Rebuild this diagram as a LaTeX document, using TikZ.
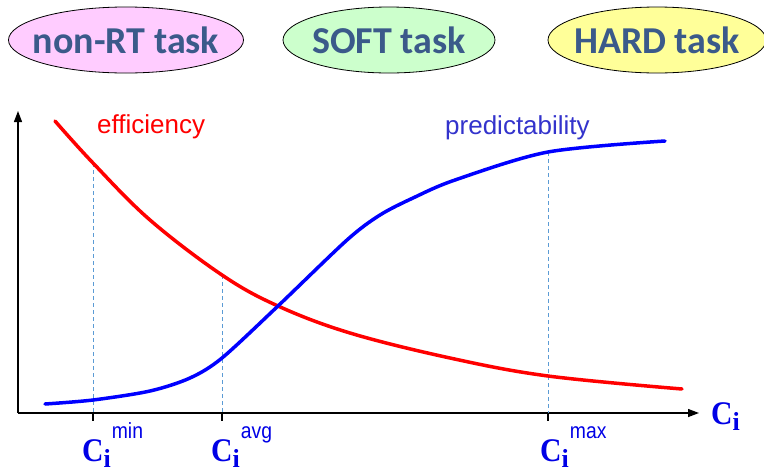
\documentclass[tikz,border=0pt]{standalone}
\usepackage{fontspec}
\setmainfont{Liberation Serif}
\newfontfamily\labelfont{Carlito}
\newfontfamily\arialfont{Liberation Sans}
\usetikzlibrary{arrows.meta,shapes.geometric}
\definecolor{tasktext}{HTML}{3B5A8A}
\definecolor{pinkfill}{HTML}{FFCCFF}
\definecolor{greenfill}{HTML}{CCFFCC}
\definecolor{yellowfill}{HTML}{FFFF99}
\definecolor{guide}{HTML}{5B9BD5}
\definecolor{axisblue}{HTML}{0000E6}
\definecolor{predblue}{HTML}{3333CC}
\tikzset{
  taskbox/.style={ellipse, draw=black, line width=0.8pt, minimum width=#1, minimum height=66pt,
    inner xsep=-14pt, inner ysep=0pt,
    font=\labelfont\bfseries\fontsize{38}{38}\selectfont, text=tasktext},
  axisline/.style={line width=1.3pt, -{Triangle[length=11pt,width=8pt]}},
  tick/.style={line width=2pt},
  guideline/.style={guide, line width=0.9pt, dash pattern=on 4pt off 3pt},
  curve/.style={line width=3.5pt, line cap=round},
  curvelabel/.style={font=\arialfont\fontsize{26}{26}\selectfont, anchor=base west, inner sep=0pt},
  clabel/.style={text=axisblue, inner sep=0pt, anchor=base west}
}
% bold serif C with subscript i and an optional sans superscript
\newcommand{\Cname}[1]{{\fontsize{33}{33}\selectfont\bfseries\scalebox{0.9}[1]{C}\raisebox{-6pt}{\fontsize{26}{26}\selectfont i}}\ifx&#1&\else\hspace{1pt}\raisebox{23pt}{\scalebox{0.88}[1]{\arialfont\fontsize{22}{22}\selectfont #1}}\fi}
\begin{document}
\begin{tikzpicture}[x=1pt,y=-1pt]
\useasboundingbox (0,0) rectangle (764,472);

% task category ellipses
\node[taskbox=235pt, fill=pinkfill] (nonrt) at (126,40) {non-RT task};
\node[taskbox=212pt, fill=greenfill] (soft) at (389,40) {SOFT task};
\node[taskbox=218pt, fill=yellowfill] (hard) at (657,40) {HARD task};

% axes
\coordinate (origin) at (18,413);
\coordinate (ytop) at (18,111);
\coordinate (xend) at (699,413);
\draw[axisline] (origin) -- (ytop);
\draw[axisline] (origin) -- (xend);
\node[clabel] (cx) at (711,424) {\Cname{}};

% reference points on the axis
\coordinate (tmin) at (93,413);
\coordinate (tavg) at (222,413);
\coordinate (tmax) at (548,413);
\coordinate (emin) at (93,163);
\coordinate (eavg) at (222,275);
\coordinate (pmax) at (548,152);

\draw[guideline] (emin) -- (tmin);
\draw[guideline] (eavg) -- (tavg);
\draw[guideline] (pmax) -- (tmax);
\draw[tick] (tmin) -- ++(0,8);
\draw[tick] (tavg) -- ++(0,8);
\draw[tick] (tmax) -- ++(0,8);

% efficiency curve
\draw[curve, red] plot[smooth, tension=0.6] coordinates {
  (55,121) (93,163) (150,220) (222,275) (278,306) (350,333) (450,358) (548,376) (682,389)};
% predictability curve
\draw[curve, blue] plot[smooth, tension=0.5] coordinates {
  (45,404) (93,400) (150,391) (190,378) (222,358) (278,306) (347,240) (380,215) (413,198) (455,180) (548,152) (665,141)};

\node[curvelabel, red] (eff) at (97,133) {efficiency};
\node[curvelabel, predblue] (pred) at (445,134) {predictability};

% axis value labels
\node[clabel] (cmin) at (82,461) {\Cname{min}};
\node[clabel] (cavg) at (211,461) {\Cname{avg}};
\node[clabel] (cmax) at (540,461) {\Cname{max}};
\end{tikzpicture}
\end{document}
